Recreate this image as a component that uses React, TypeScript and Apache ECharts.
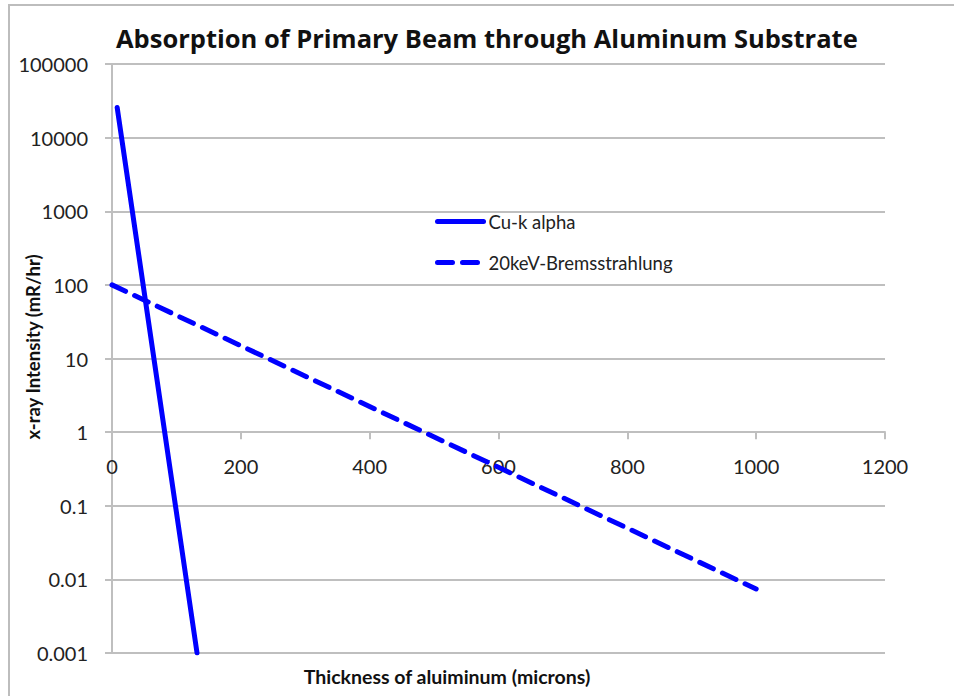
import React, { useEffect, useRef } from 'react';
import * as echarts from 'echarts';

const titleText = 'Absorption of Primary Beam through Aluminum Substrate';
const xAxisTitle = 'Thickness of aluiminum (microns)';
const yAxisTitle = 'x-ray Intensity (mR/hr)';
const seriesNames = ['Cu-k alpha', '20keV-Bremsstrahlung'];

const cuThickness = [8, 132];
const cuIntensity = [25700, 0.001];
const bremsThickness = [0, 1000];
const bremsIntensity = [100, 0.0074];

const xMin = 0;
const xMax = 1200;
const xInterval = 200;
const yTickLabels = ['0.001', '0.01', '0.1', '1', '10', '100', '1000', '10000', '100000'];

const FONT = 'Lato';
const TITLE_FONT = 'Open Sans';
const GRID_COLOR = '#bfbfbf';
const BLUE = '#0000ff';

export default function App() {
  const ref = useRef<HTMLDivElement>(null);
  useEffect(() => {
    if (!ref.current) return;
    const chart = echarts.init(ref.current, null, { renderer: 'svg' });
    const gridTop = 64;
    const gridBottom = 43;
    const plotH = 696 - gridTop - gridBottom;
    const decades = yTickLabels.length - 1;
    const oneIndex = yTickLabels.indexOf('1');
    const xAxisOffset = -(plotH * oneIndex) / decades;
    chart.setOption({
      animation: false,
      backgroundColor: '#ffffff',
      title: {
        text: titleText,
        left: 116,
        top: 25,
        padding: 0,
        textStyle: { fontFamily: TITLE_FONT, fontSize: 25.5, fontWeight: 'bold', color: '#111' },
      },
      legend: {
        orient: 'vertical',
        left: 435,
        top: 212,
        padding: 0,
        itemWidth: 46,
        itemHeight: 2,
        itemGap: 22,
        itemStyle: { opacity: 0 },
        lineStyle: { width: 5, cap: 'round' },
        textStyle: { fontFamily: FONT, fontSize: 18.5, color: '#222' },
        data: seriesNames,
      },
      grid: {
        left: 112,
        right: 69,
        top: gridTop,
        bottom: gridBottom,
        containLabel: false,
        outerBoundsMode: 'none',
      },
      xAxis: {
        type: 'value',
        min: xMin,
        max: xMax,
        interval: xInterval,
        position: 'bottom',
        offset: xAxisOffset,
        axisLine: { show: true, onZero: false, lineStyle: { color: GRID_COLOR, width: 2 } },
        axisTick: { show: true, length: 7, lineStyle: { color: GRID_COLOR, width: 2 } },
        axisLabel: {
          margin: 24,
          fontFamily: FONT,
          fontSize: 20,
          color: '#222',
          formatter: (v: number) => String(v),
        },
        splitLine: { show: false },
      },
      yAxis: {
        type: 'log',
        logBase: 10,
        min: Number(yTickLabels[0]),
        max: Number(yTickLabels[yTickLabels.length - 1]),
        splitNumber: decades,
        axisLine: { show: true, lineStyle: { color: GRID_COLOR, width: 2 } },
        axisTick: { show: true, length: 7, lineStyle: { color: GRID_COLOR, width: 2 } },
        axisLabel: {
          margin: 24,
          fontFamily: FONT,
          fontSize: 20,
          color: '#222',
          formatter: (v: number) => yTickLabels[Math.round(Math.log10(v)) + oneIndex] ?? String(v),
        },
        splitLine: { show: true, lineStyle: { color: GRID_COLOR, width: 2 } },
      },
      graphic: [
        {
          type: 'rect',
          silent: true,
          shape: { x: 9, y: 5, width: 2000, height: 2000 },
          style: { fill: 'none', stroke: '#bdbdbd', lineWidth: 2 },
          z: -10,
        },
        {
          type: 'text',
          x: 447,
          y: 676,
          style: {
            text: xAxisTitle,
            fontFamily: FONT,
            fontSize: 19.5,
            fontWeight: 'bold',
            fill: '#111',
            align: 'center',
            verticalAlign: 'middle',
          },
        },
        {
          type: 'text',
          x: 33,
          y: 347,
          rotation: Math.PI / 2,
          style: {
            text: yAxisTitle,
            fontFamily: FONT,
            fontSize: 18.5,
            fontWeight: 'bold',
            fill: '#111',
            align: 'center',
            verticalAlign: 'middle',
          },
        },
      ],
      series: [
        {
          name: seriesNames[0],
          type: 'line',
          data: cuThickness.map((x, i) => [x, cuIntensity[i]]),
          symbol: 'none',
          showSymbol: false,
          lineStyle: { color: BLUE, width: 5, cap: 'round' },
          itemStyle: { color: BLUE },
        },
        {
          name: seriesNames[1],
          type: 'line',
          data: bremsThickness.map((x, i) => [x, bremsIntensity[i]]),
          symbol: 'none',
          showSymbol: false,
          lineStyle: { color: BLUE, width: 5, type: [15, 10], cap: 'round' },
          itemStyle: { color: BLUE },
        },
      ],
    });
    return () => chart.dispose();
  }, []);
  return (
    <div
      ref={ref}
      style={{ position: 'absolute', left: 0, top: 0, width: 954, height: 696 }}
    />
  );
}
